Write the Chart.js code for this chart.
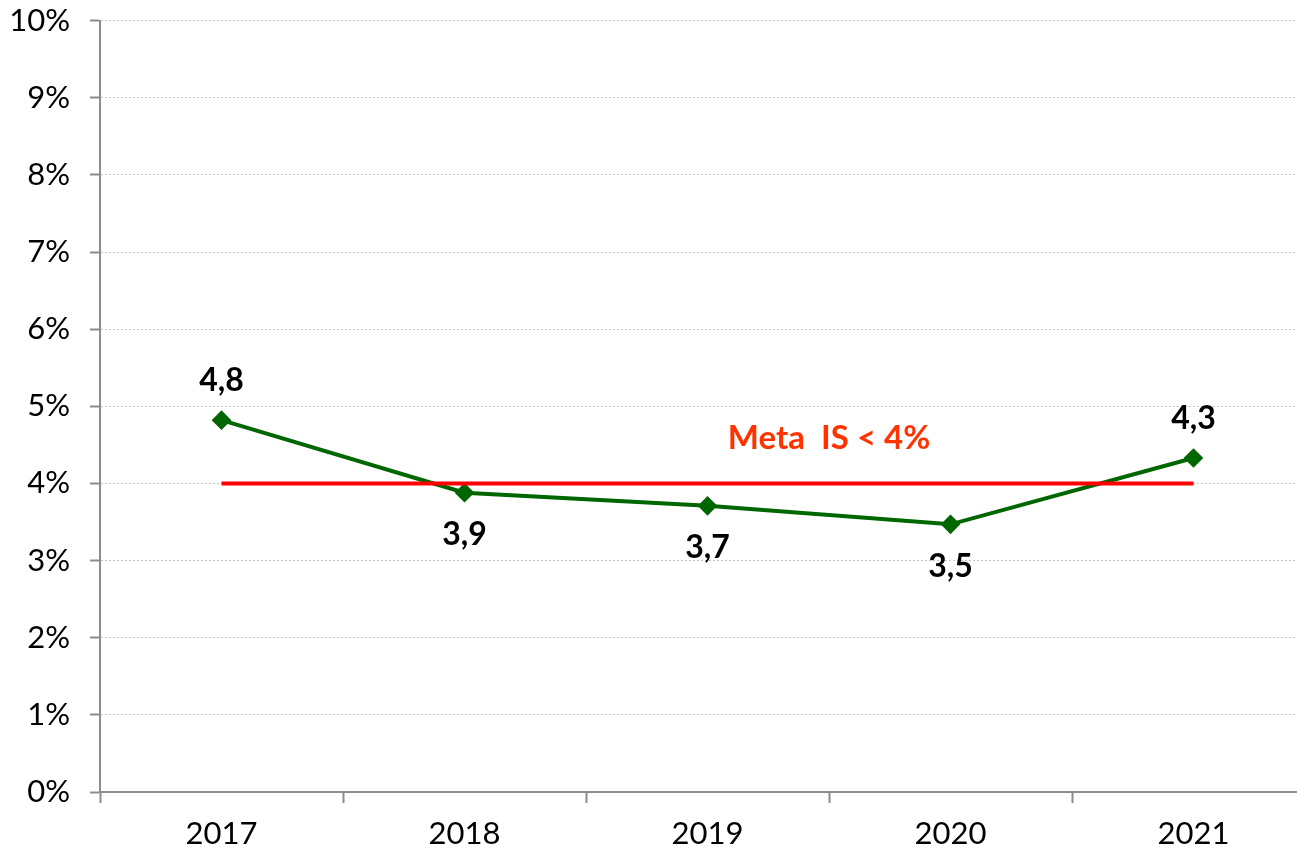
<!DOCTYPE html>
<html>
<head>
<meta charset="utf-8">
<script src="https://cdn.jsdelivr.net/npm/chart.js@4/dist/chart.umd.min.js"></script>
<style>
    html, body { margin: 0; padding: 0; background: #fff; overflow: hidden; }
    #wrap { width: 1326px; height: 874px; position: relative; top: -18px; }
</style>
</head>
<body>
<div id="wrap"><canvas id="chart"></canvas></div>
<script>
// Chart data
const years = ['2017', '2018', '2019', '2020', '2021'];
const rateValues = [4.82, 3.88, 3.71, 3.47, 4.33];
const goalValues = [4, 4, 4, 4, 4];
const labelAbove = [true, false, false, false, true];
const goalText = 'Meta  IS < 4%';

const FONT = 'Lato, "Open Sans", sans-serif';

// draws the value labels and the goal caption
const labelsPlugin = {
    id: 'valueLabels',
    afterDatasetsDraw(chart) {
        const ctx = chart.ctx;
        const meta = chart.getDatasetMeta(1);
        ctx.save();
        ctx.font = 'bold 32px ' + FONT;
        ctx.fillStyle = '#000';
        ctx.textAlign = 'center';
        ctx.textBaseline = 'middle';
        meta.data.forEach((pt, i) => {
            const txt = rateValues[i].toFixed(1).replace('.', ',');
            const dy = labelAbove[i] ? -39 : 42;
            ctx.fillText(txt, pt.x, pt.y + dy);
        });

        const xs = chart.scales.x, ys = chart.scales.y;
        const gx = (xs.getPixelForValue(2) + xs.getPixelForValue(3)) / 2;
        const gy = ys.getPixelForValue(4) - 45;
        ctx.fillStyle = '#ff3300';
        ctx.font = 'bold 33px ' + FONT;
        ctx.fillText(goalText, gx, gy);
        ctx.restore();
    }
};

new Chart(document.getElementById('chart'), {
    type: 'line',
    data: {
        labels: years,
        datasets: [
            {
                label: 'Meta',
                data: goalValues,
                borderColor: '#ff0000',
                borderWidth: 4,
                pointRadius: 0,
                fill: false,
                tension: 0
            },
            {
                label: 'IS',
                data: rateValues,
                borderColor: '#006600',
                backgroundColor: '#006600',
                borderWidth: 4,
                pointStyle: 'rectRot',
                pointRadius: 7,
                fill: false,
                tension: 0
            }
        ]
    },
    options: {
        responsive: true,
        maintainAspectRatio: false,
        animation: false,
        layout: { padding: { top: 2, right: 11, left: 0, bottom: 0 } },
        plugins: {
            legend: { display: false },
            tooltip: { enabled: false }
        },
        scales: {
            x: {
                offset: true,
                grid: {
                    offset: true,
                    drawOnChartArea: false,
                    drawTicks: true,
                    tickLength: 11,
                    tickColor: '#8c8c8c',
                    tickWidth: 2
                },
                border: { color: '#8c8c8c', width: 2 },
                ticks: {
                    color: '#000',
                    font: { family: FONT, size: 31 },
                    padding: 12
                },
                afterFit(scale) { scale.height = 64; }
            },
            y: {
                min: 0,
                max: 10,
                ticks: {
                    stepSize: 1,
                    color: '#000',
                    font: { family: FONT, size: 31 },
                    padding: 20,
                    callback: v => v + '%'
                },
                grid: {
                    color: '#c4c4c4',
                    lineWidth: 1,
                    tickLength: 10,
                    tickColor: '#8c8c8c',
                    tickWidth: 2
                },
                border: { color: '#8c8c8c', width: 2, dash: [2, 2] },
                afterFit(scale) { scale.width = 100; }
            }
        }
    },
    plugins: [labelsPlugin]
});
</script>
</body>
</html>
